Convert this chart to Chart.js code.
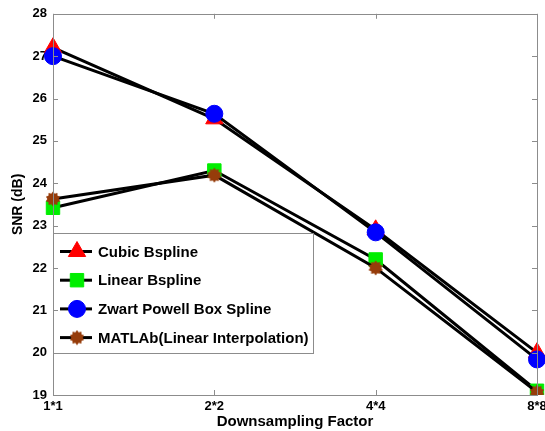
<!DOCTYPE html>
<html><head><meta charset="utf-8">
<script src="https://cdn.jsdelivr.net/npm/chart.js@4/dist/chart.umd.min.js"></script>
<style>
html,body{margin:0;padding:0;background:#fff;overflow:hidden;width:545px;height:431px}
#wrap{width:560px;height:431px}
</style>
</head><body><div id="wrap"><canvas id="c" width="560" height="431"></canvas></div>
<script>
// ---- data ----
const categories = ['1*1', '2*2', '4*4', '8*8'];
const cubicBspline = [27.2, 25.52, 22.9, 20.0];
const linearBspline = [23.42, 24.3, 22.2, 19.1];
const zwartPowellBoxSpline = [27.0, 25.64, 22.84, 19.84];
const matlabLinearInterp = [23.63, 24.19, 22.0, 19.07];
const seriesNames = ['Cubic Bspline', 'Linear Bspline', 'Zwart Powell Box Spline', 'MATLAb(Linear Interpolation)'];
const yTickValues = [19, 20, 21, 22, 23, 24, 25, 26, 27, 28];
const xTitle = 'Downsampling Factor';
const yTitle = 'SNR (dB)';

// ---- styles ----
const FONT = 'Arial, "Liberation Sans", sans-serif';
const AXIS_COLOR = '#8c8c8c';
const BROWN = '#963c0a';

function makeStar(){
  const c = document.createElement('canvas');
  c.width = 16; c.height = 16;
  const g = c.getContext('2d');
  g.fillStyle = BROWN;
  g.beginPath();
  const n = 10, ro = 7.5, ri = 5.6;
  for (let i = 0; i < 2*n; i++){
    const r = i % 2 === 0 ? ro : ri;
    const a = -Math.PI/2 + i*Math.PI/n;
    const px = 8 + r*Math.cos(a), py = 8 + r*Math.sin(a);
    if (i === 0) g.moveTo(px, py); else g.lineTo(px, py);
  }
  g.closePath(); g.fill();
  return c;
}
const starImg = makeStar();

const markers = [
  {style:'triangle', color:'#ff0000', radius:10},
  {style:'rect', color:'#00ee00', radius:9.5},
  {style:'circle', color:'#0000ff', radius:8.5},
  {style:starImg, color:BROWN, radius:8}
];
const seriesData = [cubicBspline, linearBspline, zwartPowellBoxSpline, matlabLinearInterp];

const datasets = seriesData.map((d, i) => ({
  label: seriesNames[i],
  data: d,
  borderColor: '#000',
  borderWidth: 3,
  pointStyle: markers[i].style,
  pointRadius: markers[i].radius,
  pointBackgroundColor: markers[i].color,
  pointBorderColor: markers[i].color,
  pointBorderWidth: 1,
  tension: 0,
  order: 4 - i
}));

// box + inward ticks (MATLAB style)
const boxPlugin = {
  id: 'box',
  afterDraw(chart){
    const {ctx, chartArea: a, scales} = chart;
    ctx.save();
    ctx.strokeStyle = AXIS_COLOR;
    ctx.lineWidth = 1;
    ctx.strokeRect(Math.round(a.left)+0.5, Math.round(a.top)+0.5, Math.round(a.right-a.left), Math.round(a.bottom-a.top));
    const L = 5;
    ctx.beginPath();
    scales.y.ticks.forEach(t => {
      const y = Math.round(scales.y.getPixelForValue(t.value))+0.5;
      ctx.moveTo(a.left, y); ctx.lineTo(a.left+L, y);
      ctx.moveTo(a.right, y); ctx.lineTo(a.right-L, y);
    });
    scales.x.ticks.forEach((t, i) => {
      const x = Math.round(scales.x.getPixelForValue(i))+0.5;
      ctx.moveTo(x, a.bottom); ctx.lineTo(x, a.bottom-L);
      ctx.moveTo(x, a.top); ctx.lineTo(x, a.top+L);
    });
    ctx.stroke();
    ctx.restore();
  }
};

// legend inside chart area, bottom-left (MATLAB style)
const insideLegend = {
  id: 'insideLegend',
  afterDatasetsDraw(chart){
    const {ctx, chartArea: a} = chart;
    const x0 = Math.round(a.left)+0.5, w = 260;
    const y0 = 233.5, h = 120;
    ctx.save();
    ctx.fillStyle = '#fff';
    ctx.fillRect(x0, y0, w, h);
    ctx.strokeStyle = AXIS_COLOR;
    ctx.lineWidth = 1;
    ctx.strokeRect(x0, y0, w, h);
    ctx.font = 'bold 15px ' + FONT;
    ctx.textBaseline = 'middle';
    ctx.textAlign = 'left';
    chart.data.datasets.forEach((ds, i) => {
      const cy = y0 + 18 + i*28.7;
      ctx.strokeStyle = '#000';
      ctx.lineWidth = 3;
      ctx.beginPath();
      ctx.moveTo(a.left+7, cy); ctx.lineTo(a.left+39, cy);
      ctx.stroke();
      ctx.fillStyle = ds.pointBackgroundColor;
      ctx.strokeStyle = ds.pointBorderColor;
      ctx.lineWidth = 1;
      Chart.helpers.drawPoint(ctx, {pointStyle: ds.pointStyle, radius: ds.pointRadius, borderWidth: 1, rotation: 0}, a.left+24, cy);
      ctx.fillStyle = '#000';
      ctx.fillText(ds.label, a.left+45, cy+1);
    });
    ctx.restore();
  }
};

new Chart(document.getElementById('c'), {
  type: 'line',
  data: {labels: categories, datasets},
  options: {
    responsive: false,
    animation: false,
    devicePixelRatio: 1,
    layout: {padding: {top: 12, right: 23, left: 0, bottom: 0}},
    plugins: {legend: {display: false}, tooltip: {enabled: false}},
    scales: {
      x: {
        type: 'category',
        offset: false,
        grid: {display: false, drawTicks: false},
        border: {display: false},
        ticks: {color: '#000', font: {family: FONT, size: 13, weight: 'bold'}, padding: 4, maxRotation: 0, autoSkip: false},
        title: {display: true, text: xTitle, color: '#000', font: {family: FONT, size: 15, weight: 'bold'}, padding: {top: 0, bottom: 0}},
        afterFit(s){ s.height = 36; }
      },
      y: {
        min: 19, max: 28,
        grid: {display: false, drawTicks: false},
        border: {display: false},
        afterBuildTicks(s){ s.ticks = yTickValues.map(v => ({value: v})); },
        ticks: {color: '#000', font: {family: FONT, size: 13, weight: 'bold'}, padding: 6},
        title: {display: true, text: yTitle, color: '#000', font: {family: FONT, size: 14, weight: 'bold'}, padding: {top: 10, bottom: 0}},
        afterFit(s){ s.width = 53; }
      }
    }
  },
  plugins: [boxPlugin, insideLegend]
});
</script>
</body></html>
